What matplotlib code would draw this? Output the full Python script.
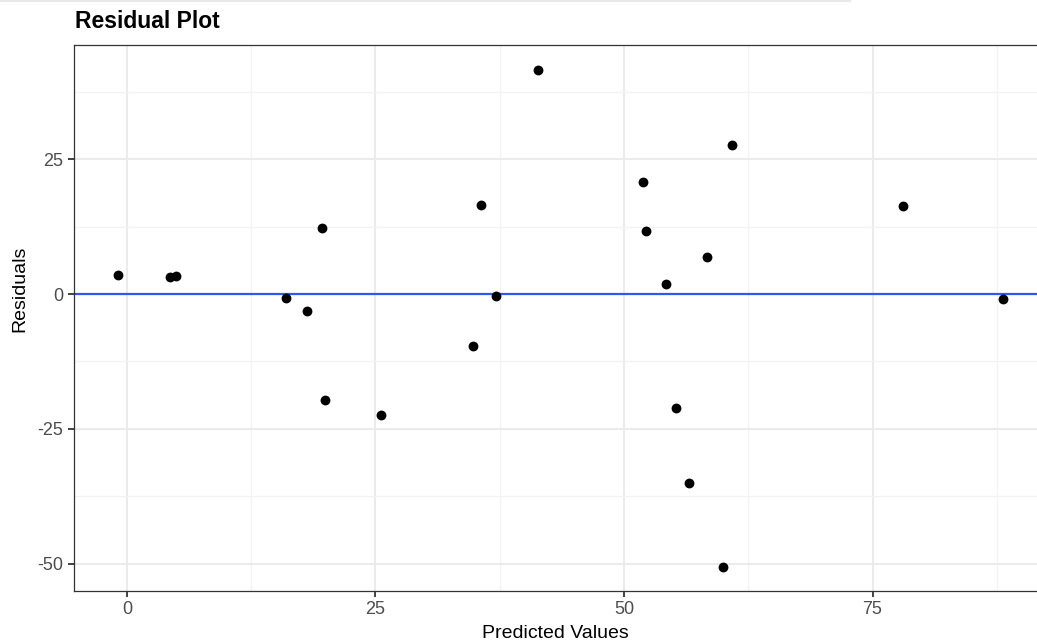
import matplotlib
matplotlib.use("Agg")
import matplotlib.pyplot as plt
from matplotlib.lines import Line2D

plt.rcParams['font.family'] = ['Liberation Sans', 'DejaVu Sans']
plt.rcParams['axes.unicode_minus'] = False

predicted = [-0.9, 4.3, 4.9, 16.0, 18.1, 19.6, 19.9, 25.6, 34.8, 35.6, 37.1,
             41.3, 51.9, 52.2, 54.2, 55.2, 56.5, 58.3, 60.0, 60.9, 78.1, 88.1]
residuals = [3.5, 3.2, 3.3, -0.7, -3.2, 12.2, -19.7, -22.4, -9.6, 16.5, -0.4,
             41.6, 20.8, 11.7, 1.9, -21.2, -35.1, 6.9, -50.6, 27.6, 16.3, -0.9]
x_ticks = [0, 25, 50, 75]
y_ticks = [-50, -25, 0, 25]
x_minor = [12.5, 37.5, 62.5, 87.5]
y_minor = [-37.5, -12.5, 12.5, 37.5]
title = "Residual Plot"
x_label = "Predicted Values"
y_label = "Residuals"

W, H = 1037, 644
fig = plt.figure(figsize=(W / 100, H / 100), dpi=100)
left, right, top, bottom = 74, 1040, 45, 591
ax = fig.add_axes([left / W, 1 - bottom / H, (right - left) / W, (bottom - top) / H])

ax.set_xlim(-5.33, 91.85)
ax.set_ylim(-55.1, 46.2)

ax.set_xticks(x_ticks)
ax.set_yticks(y_ticks)
ax.set_xticks(x_minor, minor=True)
ax.set_yticks(y_minor, minor=True)
ax.tick_params(axis='both', which='minor', length=0)
ax.tick_params(axis='both', which='major', length=4.5, width=1.3, color='#333333',
               labelcolor='#4D4D4D', labelsize=13, pad=3)
ax.set_axisbelow(True)
ax.grid(True, which='major', color='#EBEBEB', linewidth=1.5)
ax.grid(True, which='minor', color='#F3F3F3', linewidth=0.9)
for sp in ax.spines.values():
    sp.set_color('#333333')
    sp.set_linewidth(0.9)

ax.axhline(0, color='#3356F0', linewidth=1.6, zorder=2)
ax.scatter(predicted, residuals, s=50, color='black', zorder=3, linewidths=0)

fig.text(75 / W, 1 - 22 / H, title, fontsize=16.5, fontweight='bold', ha='left', va='center', color='black')
fig.text(555 / W, 1 - 633 / H, x_label, fontsize=14, ha='center', va='center', color='black')
fig.text(20 / W, 1 - 289 / H, y_label, fontsize=14, ha='center', va='center', rotation=90, color='black')

fig.add_artist(Line2D([0, 850 / W], [1 - 1 / H, 1 - 1 / H], transform=fig.transFigure,
                      color='#E8E8E8', linewidth=1.5))

fig.savefig("out.png", dpi=100, facecolor='white')
